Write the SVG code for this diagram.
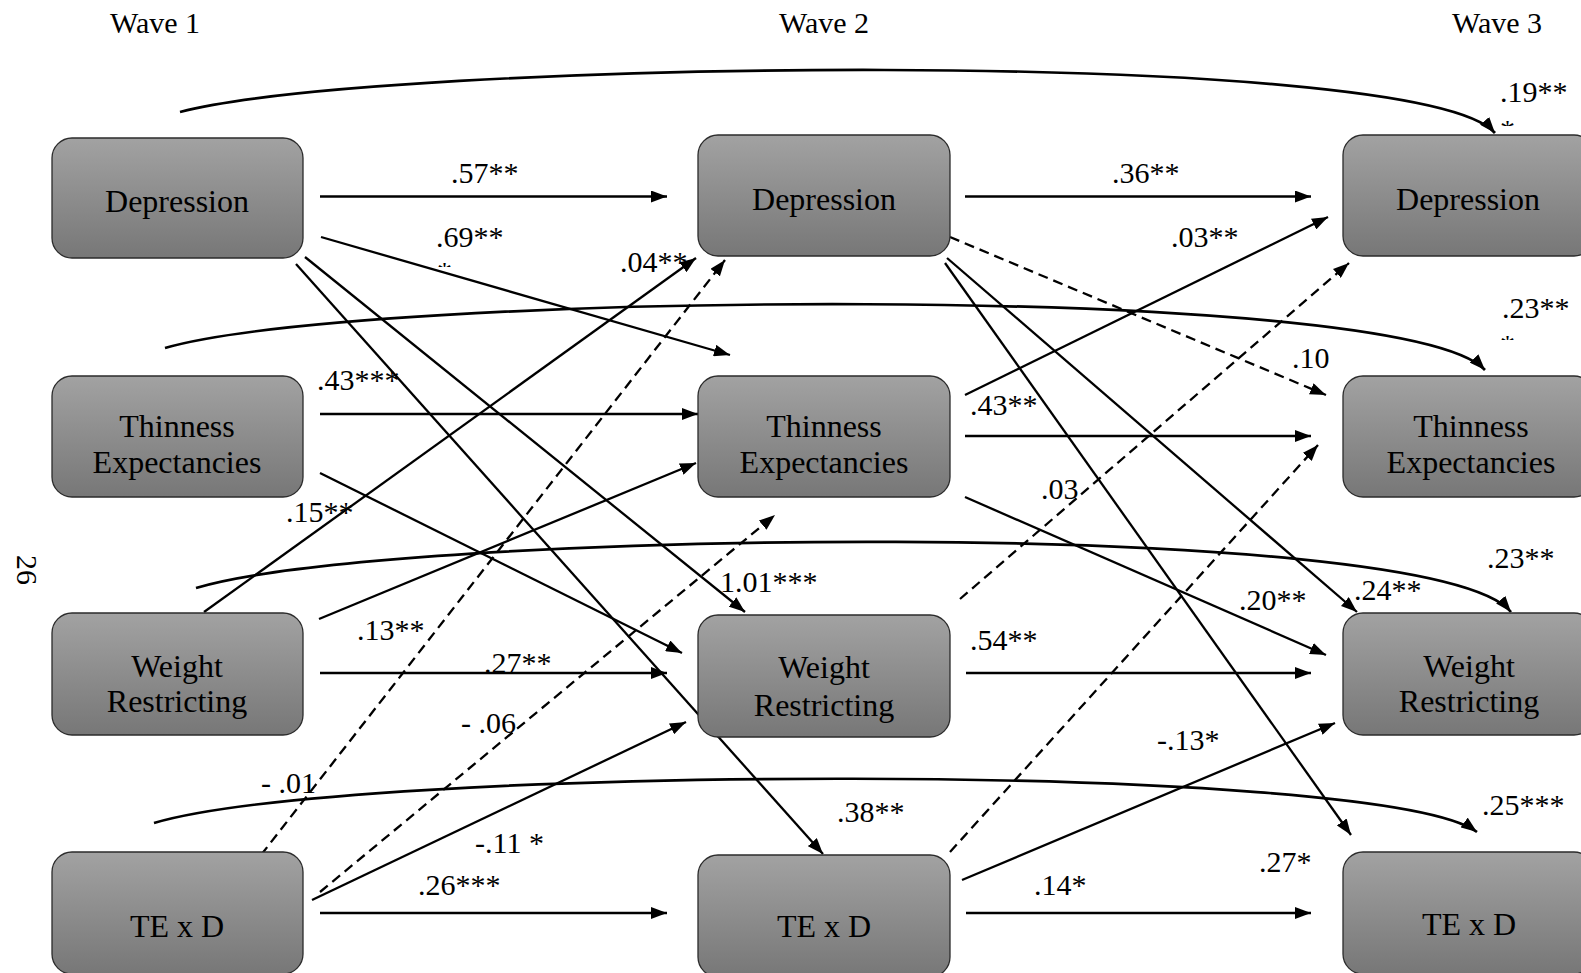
<svg xmlns="http://www.w3.org/2000/svg" width="1581" height="973" viewBox="0 0 1581 973">
<style>
.bx{fill:url(#g);stroke:#2b2b2b;stroke-width:1.3}
.bt{font-family:"Liberation Serif","Times New Roman",serif;font-size:32px;fill:#000;text-anchor:middle}
.lb{font-family:"Liberation Serif","Times New Roman",serif;font-size:30px;fill:#000}
.ln{stroke:#000;stroke-width:2.3;fill:none;marker-end:url(#ah)}
.ds{stroke:#000;stroke-width:2.3;fill:none;stroke-dasharray:10 6;marker-end:url(#ah)}
.cv{stroke:#000;stroke-width:2.7;fill:none;marker-end:url(#ah)}
</style>
<defs>
<linearGradient id="g" x1="0" y1="0" x2="0" y2="1">
<stop offset="0" stop-color="#a2a2a2"/>
<stop offset="1" stop-color="#777777"/>
</linearGradient>
<marker id="ah" markerUnits="userSpaceOnUse" markerWidth="17" markerHeight="12" refX="16" refY="6" orient="auto">
<path d="M0,0 L16,6 L0,12 z" fill="#000"/>
</marker>
<clipPath id="c1"><rect x="1495" y="110" width="30" height="16"/></clipPath>
<clipPath id="c2"><rect x="430" y="250" width="30" height="17"/></clipPath>
<clipPath id="c3"><rect x="1495" y="325" width="30" height="15"/></clipPath>
</defs>
<rect width="1581" height="973" fill="#fff"/>
<g id="headers">
<text class="lb" x="110" y="33">Wave 1</text>
<text class="lb" x="779" y="33">Wave 2</text>
<text class="lb" x="1452" y="33">Wave 3</text>
<text class="lb" x="27" y="570" text-anchor="middle" dominant-baseline="central" transform="rotate(90 27 570)">26</text>
</g>
<g id="connectors">
<path class="cv" d="M180,112 C380,60 1420,45 1495,133"/>
<path class="cv" d="M165,348 C360,292 1400,280 1485,370"/>
<path class="cv" d="M196,588 C390,530 1430,515 1511,612"/>
<path class="cv" d="M154,823 C350,765 1380,760 1477,832"/>
<line class="ln" x1="320" y1="196.5" x2="667" y2="196.5"/>
<line class="ln" x1="320" y1="414" x2="698" y2="414"/>
<line class="ln" x1="320" y1="673" x2="667" y2="673"/>
<line class="ln" x1="320" y1="913" x2="667" y2="913"/>
<line class="ln" x1="965" y1="196.5" x2="1311" y2="196.5"/>
<line class="ln" x1="965" y1="436" x2="1311" y2="436"/>
<line class="ln" x1="966" y1="673" x2="1311" y2="673"/>
<line class="ln" x1="966" y1="913" x2="1311" y2="913"/>
<line class="ln" x1="321" y1="237" x2="730" y2="355"/>
<line class="ln" x1="305" y1="257" x2="745" y2="612"/>
<line class="ln" x1="296" y1="264" x2="823" y2="854"/>
<line class="ln" x1="320" y1="473" x2="682" y2="653"/>
<line class="ln" x1="204" y1="612" x2="696" y2="258"/>
<line class="ln" x1="319" y1="619" x2="696" y2="463"/>
<line class="ln" x1="312" y1="900" x2="686" y2="722"/>
<line class="ln" x1="965" y1="395" x2="1328" y2="217"/>
<line class="ln" x1="965" y1="497" x2="1326" y2="655"/>
<line class="ln" x1="947" y1="258" x2="1357" y2="612"/>
<line class="ln" x1="945" y1="263" x2="1351" y2="835"/>
<line class="ln" x1="962" y1="880" x2="1335" y2="723"/>
<line class="ds" x1="261" y1="855" x2="725" y2="260"/>
<line class="ds" x1="320" y1="892" x2="775" y2="515"/>
<line class="ds" x1="950" y1="237" x2="1326" y2="395"/>
<line class="ds" x1="960" y1="599" x2="1349" y2="263"/>
<line class="ds" x1="950" y1="852" x2="1318" y2="445"/>
</g>
<g id="dep1"><rect class="bx" x="52" y="138" width="251" height="120" rx="20"/><text class="bt" x="177" y="212">Depression</text></g>
<g id="te1"><rect class="bx" x="52" y="376" width="251" height="121" rx="20"/><text class="bt" x="177" y="437">Thinness</text><text class="bt" x="177" y="473">Expectancies</text></g>
<g id="wr1"><rect class="bx" x="52" y="613" width="251" height="122" rx="20"/><text class="bt" x="177" y="677">Weight</text><text class="bt" x="177" y="712">Restricting</text></g>
<g id="texd1"><rect class="bx" x="52" y="852" width="251" height="122" rx="20"/><text class="bt" x="177" y="937">TE x D</text></g>
<g id="dep2"><rect class="bx" x="698" y="135" width="252" height="121" rx="20"/><text class="bt" x="824" y="210">Depression</text></g>
<g id="te2"><rect class="bx" x="698" y="376" width="252" height="121" rx="20"/><text class="bt" x="824" y="437">Thinness</text><text class="bt" x="824" y="473">Expectancies</text></g>
<g id="wr2"><rect class="bx" x="698" y="615" width="252" height="122" rx="20"/><text class="bt" x="824" y="678">Weight</text><text class="bt" x="824" y="716">Restricting</text></g>
<g id="texd2"><rect class="bx" x="698" y="855" width="252" height="122" rx="20"/><text class="bt" x="824" y="937">TE x D</text></g>
<g id="dep3"><rect class="bx" x="1343" y="135" width="251" height="121" rx="20"/><text class="bt" x="1468" y="210">Depression</text></g>
<g id="te3"><rect class="bx" x="1343" y="376" width="251" height="121" rx="20"/><text class="bt" x="1471" y="437">Thinness</text><text class="bt" x="1471" y="473">Expectancies</text></g>
<g id="wr3"><rect class="bx" x="1343" y="613" width="251" height="122" rx="20"/><text class="bt" x="1469" y="677">Weight</text><text class="bt" x="1469" y="712">Restricting</text></g>
<g id="texd3"><rect class="bx" x="1343" y="852" width="251" height="122" rx="20"/><text class="bt" x="1469" y="935">TE x D</text></g>
<g id="labels">
<text class="lb" x="1500" y="102">.19**</text>
<text class="lb" x="1500" y="140" clip-path="url(#c1)">*</text>
<text class="lb" x="436" y="247">.69**</text>
<text class="lb" x="437" y="282" clip-path="url(#c2)">*</text>
<text class="lb" x="1502" y="318">.23**</text>
<text class="lb" x="1500" y="355" clip-path="url(#c3)">*</text>
<text class="lb" x="451" y="183">.57**</text>
<text class="lb" x="620" y="272">.04**</text>
<text class="lb" x="1112" y="183">.36**</text>
<text class="lb" x="1171" y="247">.03**</text>
<text class="lb" x="1292" y="368">.10</text>
<text class="lb" x="317" y="390">.43***</text>
<text class="lb" x="970" y="415">.43**</text>
<text class="lb" x="1041" y="499">.03</text>
<text class="lb" x="286" y="522">.15**</text>
<text class="lb" x="1487" y="568">.23**</text>
<text class="lb" x="720" y="592">1.01***</text>
<text class="lb" x="1354" y="600">.24**</text>
<text class="lb" x="1239" y="610">.20**</text>
<text class="lb" x="357" y="640">.13**</text>
<text class="lb" x="484" y="673">.27**</text>
<text class="lb" x="970" y="650">.54**</text>
<text class="lb" x="461" y="733">- .06</text>
<text class="lb" x="1157" y="750">-.13*</text>
<text class="lb" x="261" y="793">- .01</text>
<text class="lb" x="837" y="822">.38**</text>
<text class="lb" x="1482" y="815">.25***</text>
<text class="lb" x="475" y="853">-.11 *</text>
<text class="lb" x="1259" y="872">.27*</text>
<text class="lb" x="418" y="895">.26***</text>
<text class="lb" x="1034" y="895">.14*</text>
</g>
</svg>
